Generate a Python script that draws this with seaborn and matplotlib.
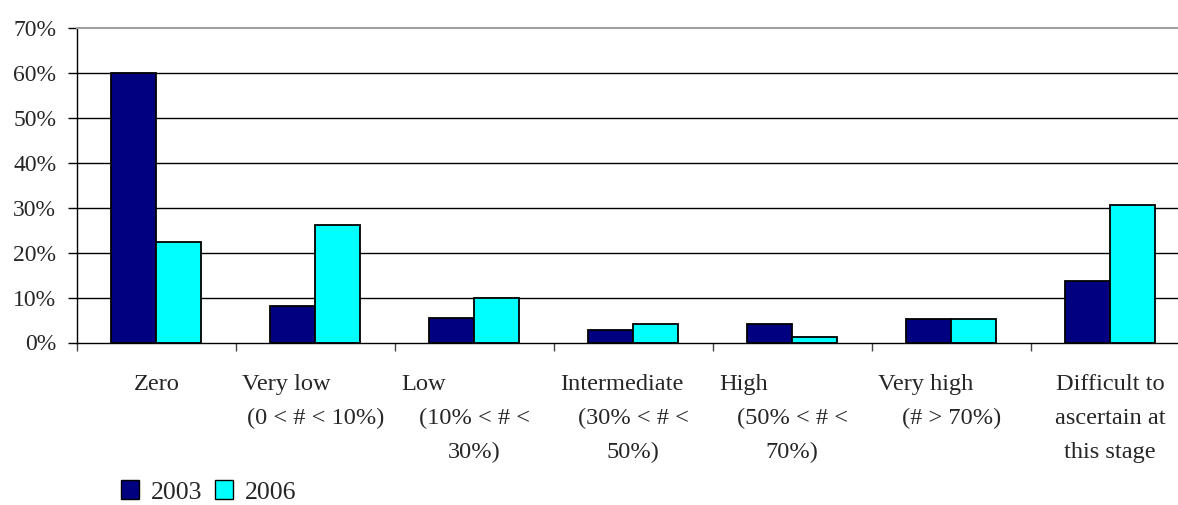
import matplotlib
matplotlib.use("Agg")
import matplotlib.pyplot as plt
import seaborn as sns
import pandas as pd
from matplotlib.patches import Patch

# ---------------- data ----------------
categories = ["Zero", "Very low", "Low", "Intermediate", "High", "Very high", "Difficult"]
label_lines = [
    ["Zero"],
    ["Very low", "(0 < # < 10%)"],
    ["Low", "(10% < # <", "30%)"],
    ["Intermediate", "(30% < # <", "50%)"],
    ["High", "(50% < # <", "70%)"],
    ["Very high", "(# > 70%)"],
    ["Difficult to", "ascertain at", "this stage"],
]
first_line_left = [False, True, True, True, True, True, False]
years = ["2003", "2006"]
values_2003 = [60.0, 8.1, 5.4, 2.7, 4.1, 5.3, 13.7]
values_2006 = [22.3, 26.2, 9.8, 4.1, 1.3, 5.3, 30.6]
y_ticks = [0, 10, 20, 30, 40, 50, 60, 70]
colors = {"2003": "#000080", "2006": "#00FFFF"}

df = pd.DataFrame({
    "category": categories * 2,
    "year": [years[0]] * len(categories) + [years[1]] * len(categories),
    "value": values_2003 + values_2006,
})

# ---------------- style ----------------
sns.set_style("white")
plt.rcParams["font.family"] = ["Liberation Serif", "DejaVu Serif"]

W, H, DPI = 1178, 505, 100
fig = plt.figure(figsize=(W / DPI, H / DPI), dpi=DPI)
ax = fig.add_axes([77 / W, 162.5 / H, 1112.6 / W, 314.5 / H])

sns.barplot(data=df, x="category", y="value", hue="year", order=categories,
            hue_order=years, palette=colors, saturation=1, width=0.566, gap=0,
            edgecolor="black", linewidth=1.3, ax=ax, legend=False, zorder=2)

ax.set_ylim(0, 70)
ax.set_xlim(-0.5, len(categories) - 0.5)
for y in y_ticks[1:-1]:
    ax.axhline(y, color="black", linewidth=1, zorder=0)

ax.set_yticks(y_ticks)
ax.set_yticklabels([f"{v}%" for v in y_ticks], fontsize=17)
ax.set_xticks([i - 0.5 for i in range(len(categories) + 1)])
ax.set_xticklabels([])
ax.tick_params(axis="y", direction="out", length=6.5, width=1, color="black", pad=8.5, left=True)
ax.tick_params(axis="x", direction="out", length=5.8, width=1, color="#444444", bottom=True)
ax.set_xlabel("")
ax.set_ylabel("")

for side in ["left", "bottom"]:
    ax.spines[side].set_color("black")
    ax.spines[side].set_linewidth(1)
ax.spines["top"].set_color("#a0a0a0")
ax.spines["top"].set_linewidth(1.5)
ax.spines["right"].set_visible(False)

# category labels (multi-line, Excel-like wrapping)
base_pt = 34.2
step_pt = 24.5
for i, lines in enumerate(label_lines):
    for k, line in enumerate(lines):
        if k == 0 and first_line_left[i]:
            xy = (i - 0.5, 0)
            dx = 4.5
            ha = "left"
        else:
            xy = (i, 0)
            dx = 0
            ha = "center"
        ax.annotate(line, xy=xy, xycoords=("data", "axes fraction"),
                    xytext=(dx, -(base_pt + step_pt * k)), textcoords="offset points",
                    ha=ha, va="baseline", fontsize=17.6, annotation_clip=False)

# legend
handles = [Patch(facecolor=colors[y], edgecolor="black", linewidth=1) for y in years]
fig.legend(handles, years, loc="center left", bbox_to_anchor=(120.7 / W, 13 / H),
           ncol=2, frameon=False, fontsize=18.6, handlelength=0.7, handleheight=0.7,
           handletextpad=0.45, columnspacing=0.5, borderpad=0, borderaxespad=0)

fig.savefig("out.png", dpi=DPI)
